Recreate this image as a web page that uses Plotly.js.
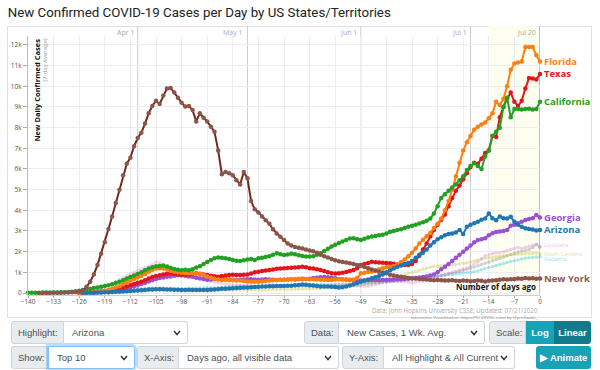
<!DOCTYPE html>
<html><head><meta charset="utf-8">
<script src="https://cdn.plot.ly/plotly-3.0.1.min.js"></script>
<style>
body{margin:0;width:600px;height:370px;overflow:hidden;background:#fff;font-family:"Liberation Sans",Arial,sans-serif;position:relative;}
#frame{position:absolute;left:7px;top:26px;width:583px;height:290px;border:1px solid #dee2e6;}
#chart{position:absolute;left:0;top:0;width:600px;height:322px;}
.c{position:absolute;height:23px;box-sizing:border-box;font-size:9.5px;color:#495057;display:flex;align-items:center;white-space:nowrap;overflow:hidden;}
.lbl{background:#e9ecef;border:1px solid #ced4da;border-radius:3px 0 0 3px;padding:0 6px;}
.sel{background:#fff;border:1px solid #ced4da;border-left:none;border-radius:0 3px 3px 0;padding:0 6px 0 8px;justify-content:space-between;}
.sel svg{flex:none;}
.focus{border:1px solid #80bdff;box-shadow:0 0 0 2px rgba(0,123,255,.25);border-radius:0 3px 3px 0;}
.btn{color:#fff;font-weight:bold;justify-content:center;}
</style>
</head><body>
<div id="frame"></div>
<div id="chart"></div>

<div class="c lbl" style="left:11px;top:321px;width:53px;">Highlight:</div>
<div class="c sel" style="left:64px;top:321px;width:124px;"><span>Arizona</span><svg width="8" height="6"><polyline points="1,1 4,4.5 7,1" fill="none" stroke="#343a40" stroke-width="1.5"/></svg></div>
<div class="c lbl" style="left:304px;top:321px;width:35px;">Data:</div>
<div class="c sel" style="left:339px;top:321px;width:146px;"><span>New Cases, 1 Wk. Avg.</span><svg width="8" height="6"><polyline points="1,1 4,4.5 7,1" fill="none" stroke="#343a40" stroke-width="1.5"/></svg></div>
<div class="c lbl" style="left:489px;top:321px;width:37px;">Scale:</div>
<div class="c btn" style="left:526px;top:321px;width:28px;background:#17a2b8;">Log</div>
<div class="c btn" style="left:554px;top:321px;width:37px;background:#117a8b;border-radius:0 3px 3px 0;">Linear</div>

<div class="c lbl" style="left:11px;top:346px;width:37px;">Show:</div>
<div class="c sel focus" style="left:48px;top:346px;width:87px;"><span>Top 10</span><svg width="8" height="6"><polyline points="1,1 4,4.5 7,1" fill="none" stroke="#343a40" stroke-width="1.5"/></svg></div>
<div class="c lbl" style="left:137px;top:346px;width:42px;">X-Axis:</div>
<div class="c sel" style="left:179px;top:346px;width:160px;"><span>Days ago, all visible data</span><svg width="8" height="6"><polyline points="1,1 4,4.5 7,1" fill="none" stroke="#343a40" stroke-width="1.5"/></svg></div>
<div class="c lbl" style="left:342px;top:346px;width:42px;">Y-Axis:</div>
<div class="c sel" style="left:384px;top:346px;width:131px;"><span>All Highlight &amp; All Current</span><svg width="8" height="6"><polyline points="1,1 4,4.5 7,1" fill="none" stroke="#343a40" stroke-width="1.5"/></svg></div>
<div class="c btn" style="left:536px;top:346px;width:55px;background:#17a2b8;border-radius:3px;">&#9654; Animate</div>

<script>
// ---- data (7-day average new cases, x = days ago, last point = Jul 20, 2020) ----
const daysAgo = Array.from({length: 141}, (_, i) => i - 140);

const newYork = [1,2,3,5,
 8,10,15,20,28,38,48,
 60,120,300,550,900,1350,1900,
 2450,3100,3700,4350,5000,5700,6250,
 6550,7100,7500,7750,8200,8700,9050,
 9300,9150,9550,9900,9920,9700,9450,
 9200,9020,9050,8850,8300,8700,8480,
 8300,8050,7800,6900,5750,5850,5800,
 5700,5450,5250,5850,5550,4450,4050,
 3900,3700,3520,3350,3080,2880,2720,
 2560,2400,2300,2230,2190,2150,2100,
 2060,2020,1950,1850,1780,1720,1640,
 1580,1530,1500,1470,1440,1400,1360,
 1320,1260,1200,1140,1090,1030,990,
 950,880,850,810,790,760,730,
 710,700,680,660,650,630,620,
 630,620,610,600,620,590,580,
 600,590,570,580,600,590,560,
 590,600,620,640,660,650,670,
 680,700,690,720,700,710,690,
 700];

const california = [10,12,15,15,18,20,22,
 25,30,35,40,50,60,80,
 110,150,180,210,240,270,300,
 340,380,420,480,540,620,700,
 770,850,920,1000,1100,1180,1250,
 1300,1310,1330,1280,1220,1160,1120,
 1100,1120,1100,1150,1230,1300,1400,
 1500,1600,1680,1720,1700,1680,1640,
 1600,1560,1550,1580,1620,1640,1600,
 1680,1700,1740,1780,1850,1920,1880,
 1840,1860,1900,1870,1830,1790,1770,
 1760,1780,1850,1920,2030,2140,2250,
 2330,2420,2490,2560,2640,2650,2600,
 2560,2620,2690,2730,2760,2790,2820,
 2880,2960,3000,3050,3090,3140,3200,
 3250,3300,3360,3420,3500,3600,3850,
 4200,4600,4780,4950,5100,5250,5450,
 5650,5950,6150,6280,6150,6000,6600,
 6900,7600,7800,8000,9000,9450,8500,
 8900,8900,8880,8900,8920,8880,8900,
 9250];

const texas = [0,10,20,30,40,60,80,
 100,130,160,190,230,270,310,
 380,440,500,550,620,700,770,
 820,860,900,930,950,930,900,
 870,880,900,930,950,930,900,
 870,840,810,790,820,850,870,
 880,870,870,880,900,940,1000,
 1030,1060,1090,1110,1140,1170,1190,
 1200,1210,1220,1230,1250,1270,1240,
 1200,1180,1150,1110,1060,1000,950,
 940,960,980,1020,1070,1110,1200,
 1350,1400,1450,1510,1490,1470,1460,
 1450,1440,1420,1380,1350,1350,1360,
 1400,1550,1800,2100,2400,2750,3050,
 3300,3550,3800,4200,4600,4950,5200,
 5500,5800,6100,6300,6250,6500,6770,
 6900,7600,7550,8500,9000,9400,9700,
 9250,9050,9300,9900,10400,10380,10330,
 10600];

const florida = [0,10,20,30,40,60,80,
 110,150,200,260,330,420,520,
 600,680,750,820,920,1030,1130,
 1190,1200,1190,1150,1080,1030,1000,
 980,970,960,960,950,920,880,
 800,740,690,650,630,640,630,
 620,610,600,580,560,550,540,
 550,560,580,600,620,630,640,
 640,650,660,670,690,700,680,
 670,660,650,640,640,630,630,
 650,660,650,640,630,650,720,
 950,980,1010,1030,1080,1150,1200,
 1250,1270,1300,1380,1500,1620,1780,
 1950,2150,2400,2580,2750,2900,3150,
 3350,3600,4000,4450,5000,5650,6300,
 6900,7300,7600,7900,8050,8150,8250,
 8450,8700,9250,9100,9400,10000,10800,
 11100,11150,11200,11900,11900,11900,11500,
 11200];

const georgia = [0,20,40,
 60,80,100,130,160,190,230,
 280,330,380,440,500,560,620,
 680,720,750,780,800,840,870,
 860,830,800,780,740,710,680,
 640,650,680,700,690,670,650,
 640,630,640,650,660,660,650,
 640,650,660,650,640,630,640,
 640,650,660,650,660,670,680,
 690,720,740,760,770,760,740,
 710,680,660,650,640,630,620,
 610,610,620,630,630,620,630,
 630,640,650,660,670,680,700,
 710,730,750,770,800,850,900,
 1000,1150,1270,1400,1550,1700,1850,
 2000,2150,2300,2450,2560,2600,2650,
 2800,2890,2950,2970,3000,3050,3250,
 3300,3370,3450,3530,3580,3620,3770,
 3650];

const arizona = [0,5,10,15,20,30,
 35,40,50,55,60,70,80,
 95,110,120,130,150,165,175,
 180,185,180,175,170,160,155,
 150,150,155,150,150,145,150,
 150,160,170,185,200,210,220,
 230,240,250,260,270,280,290,
 300,310,320,330,330,335,340,
 340,345,350,370,390,410,400,
 380,360,340,320,310,310,300,
 290,270,280,320,360,420,480,
 550,600,650,710,760,820,900,
 1000,1100,1180,1270,1330,1400,1450,
 1550,1700,1850,1950,2100,2300,2450,
 2600,2700,2800,2850,2880,2930,3050,
 2850,3200,3300,3380,3450,3550,3600,
 3850,3620,3520,3700,3620,3600,3690,
 3450,3300,3200,3130,3100,3070,3020,
 3050];

const louisiana = [0,20,50,100,160,230,
 300,380,470,560,650,740,830,
 920,1000,1080,1160,1230,1300,1380,
 1500,1450,1350,1250,1150,1050,950,
 900,850,800,750,700,650,620,
 600,560,520,490,460,430,420,
 400,390,380,370,360,350,340,
 330,320,330,400,420,380,360,
 350,340,330,320,330,340,330,
 320,310,300,300,310,320,330,
 340,360,380,400,380,360,340,
 330,320,330,350,400,450,500,
 520,540,560,560,550,540,520,
 500,520,550,580,620,680,750,
 800,850,900,950,1000,1050,1100,
 1150,1200,1300,1400,1500,1650,1800,
 1850,1900,1950,1950,2000,2050,2100,
 2150,2200,2150,2200,2250,2300,2350,
 2200];

const southCarolina = [0,
 10,20,30,40,50,60,70,
 80,90,100,110,120,130,140,
 150,150,150,150,140,140,140,
 140,140,130,130,130,130,130,
 130,130,130,140,140,140,150,
 150,150,150,160,160,160,160,
 160,160,160,170,170,170,170,
 170,170,170,180,180,190,200,
 200,210,220,230,240,250,260,
 270,280,300,320,340,360,380,
 400,430,460,500,540,580,620,
 660,700,750,800,850,900,950,
 1000,1050,1100,1150,1200,1250,1280,
 1300,1320,1330,1340,1350,1370,1400,
 1430,1460,1500,1550,1600,1650,1680,
 1700,1720,1750,1780,1800,1820,1850,
 1870,1880,1890,1900,1910,1920,1930,
 1900];

const alabama = [0,20,40,60,80,100,
 120,140,160,170,180,190,200,
 200,200,190,190,190,200,200,
 210,210,220,230,230,240,240,
 240,250,250,250,250,250,250,
 250,250,260,260,270,280,290,
 300,310,320,330,340,350,350,
 350,360,370,380,390,400,400,
 400,410,410,400,390,380,380,
 380,370,360,360,360,370,380,
 400,420,440,460,480,500,520,
 540,560,580,600,620,640,660,
 680,700,720,740,760,780,800,
 820,840,860,880,900,920,940,
 960,980,1000,1030,1080,1130,1180,
 1230,1280,1330,1380,1430,1480,1520,
 1560,1600,1640,1680,1700,1720,1740,
 1750];

const tennessee = [0,
 20,40,60,80,100,120,140,
 160,180,200,210,220,230,230,
 230,230,220,210,200,190,180,
 170,160,160,160,160,170,180,
 190,200,220,240,260,280,300,
 320,330,330,320,320,310,300,
 300,300,310,310,320,320,330,
 330,340,340,350,350,360,360,
 370,370,380,380,390,390,400,
 410,420,430,440,450,460,470,
 480,490,500,510,520,530,540,
 550,560,570,580,590,600,620,
 640,660,680,700,720,740,770,
 800,840,880,920,960,1000,1050,
 1100,1150,1200,1260,1320,1380,1440,
 1500,1560,1620,1680,1740,1800,1860,
 1920,1980,2020,2060,2100,2200,2350,
 2250];

const yTickVals = [0,1000,2000,3000,4000,5000,6000,7000,8000,9000,10000,11000,12000];
const yTickText = ['0','1k','2k','3k','4k','5k','6k','7k','8k','9k','10k','11k','12k'];
const dateLabels = ['Apr 1','May 1','Jun 1','Jul 1','Jul 20'];
const dateDaysAgo = [-110,-80,-49,-19,0];
const recentWindowStart = -14;

// ---- styles ----
const pad = v => Array(141 - v.length).fill(null).concat(v);
const series = [
  {name:'Tennessee', y:tennessee, color:'#7f7f7f', faded:true, label:false},
  {name:'Alabama', y:alabama, color:'#17becf', faded:true, label:true, nudge:-2.5},
  {name:'South Carolina', y:southCarolina, color:'#bcbd22', faded:true, label:true, nudge:0},
  {name:'Louisiana', y:louisiana, color:'#e377c2', faded:true, label:true, nudge:2.5},
  {name:'Georgia', y:georgia, color:'#9b4fd1', faded:false, label:true},
  {name:'Texas', y:texas, color:'#e3141b', faded:false, label:true},
  {name:'Florida', y:florida, color:'#ff7f0e', faded:false, label:true},
  {name:'California', y:california, color:'#22a022', faded:false, label:true},
  {name:'New York', y:newYork, color:'#8c564b', line:'#6e2a1c', faded:false, label:true},
  {name:'Arizona', y:arizona, color:'#1f77b4', faded:false, label:true}
];

const font = 'Open Sans, sans-serif';
const traces = series.map(s => ({
  type:'scatter', mode:'lines+markers', name:s.name,
  x: daysAgo, y: pad(s.y), cliponaxis:false,
  opacity: s.faded ? 0.35 : 1,
  line:{color: s.line || s.color, width: s.faded ? 1.2 : 2},
  marker:{color:s.color, size: s.faded ? 3.5 : 4.5},
  hoverinfo:'skip'
}));

const annotations = [];
series.forEach(s => {
  if (!s.label) return;
  annotations.push({x:0, y:s.y[s.y.length-1], xref:'x', yref:'y', text:s.name, showarrow:false,
    xanchor:'left', yanchor:'middle', xshift:2, yshift: s.nudge || 0,
    font:{family:font, size: s.faded ? 5.5 : 9.5, color:s.color, weight: s.faded ? 400 : 700},
    opacity: s.faded ? 0.45 : 1});
});
dateLabels.forEach((t,i) => annotations.push({x:dateDaysAgo[i], y:1, xref:'x', yref:'paper', text:t,
  showarrow:false, xanchor:'right', yanchor:'middle', xshift:-2, yshift:4,
  font:{family:font, size:7, color:'#aaa'}}));
annotations.push({x:0, y:1, xref:'paper', yref:'paper', xanchor:'left', yanchor:'top', xshift:1, yshift:-1,
  text:'New Daily Confirmed Cases', textangle:-90, showarrow:false, font:{family:font, size:7.5, color:'#111', weight:700}});
annotations.push({x:0, y:1, xref:'paper', yref:'paper', xanchor:'left', yanchor:'top', xshift:10, yshift:-1,
  text:'(7-day Average)', textangle:-90, showarrow:false, font:{family:font, size:6, color:'#999'}});
annotations.push({x:1, y:0, xref:'paper', yref:'paper', xanchor:'right', yanchor:'bottom', xshift:-2, yshift:1,
  text:'Number of days ago', showarrow:false, font:{family:font, size:8, color:'#111', weight:700}});
annotations.push({x:1, y:0, xref:'paper', yref:'paper', xanchor:'right', yanchor:'middle', yshift:-15,
  text:'Data: John Hopkins University CSSE; Updated: 07/21/2020', showarrow:false, font:{family:font, size:6.2, color:'#aaa'}});
annotations.push({x:1, y:0, xref:'paper', yref:'paper', xanchor:'right', yanchor:'middle', yshift:-21.5,
  text:'Interactive Visualization: https://91-DIVOC.com/ by @profwade_', showarrow:false, font:{family:font, size:4.3, color:'#888'}});

const shapes = [{type:'rect', xref:'x', yref:'paper', x0:recentWindowStart, x1:0, y0:0, y1:1.0386,
  fillcolor:'#fdfdf0', line:{width:0}, layer:'below'}];
dateDaysAgo.forEach(d => shapes.push({type:'line', xref:'x', yref:'paper', x0:d, x1:d, y0:0, y1:1.0386,
  line:{color: d === 0 ? '#aaa' : '#ccc', width: d === 0 ? 1.5 : 1}, layer:'below'}));

const layout = {
  width:600, height:322,
  margin:{l:28, r:60, t:36, b:27},
  paper_bgcolor:'rgba(0,0,0,0)', plot_bgcolor:'rgba(0,0,0,0)',
  showlegend:false,
  title:{text:'New Confirmed COVID-19 Cases per Day by US States/Territories', x:0.013, xanchor:'left',
    xref:'container', y:1-12/322, yref:'container', yanchor:'middle',
    font:{family:'Roboto, sans-serif', size:13.3, color:'#222'}},
  xaxis:{range:[-140,0], tick0:0, dtick:7, showgrid:true, gridcolor:'#ececf3', zeroline:false,
    ticks:'outside', ticklen:2, tickcolor:'#aaa', tickfont:{family:font, size:6.5, color:'#555'},
    ticklabelstandoff:-2, showline:true, linecolor:'#ccc', fixedrange:true},
  yaxis:{range:[-97,12435], tickvals:yTickVals, ticktext:yTickText, showgrid:true, gridcolor:'#ececf3',
    zeroline:false, ticks:'outside', ticklen:4, tickcolor:'#aaa', tickfont:{family:font, size:6.5, color:'#555'},
    showline:true, linecolor:'#bbb', fixedrange:true},
  annotations, shapes
};

Plotly.newPlot('chart', traces, layout, {staticPlot:true, displayModeBar:false});
</script>
</body></html>
